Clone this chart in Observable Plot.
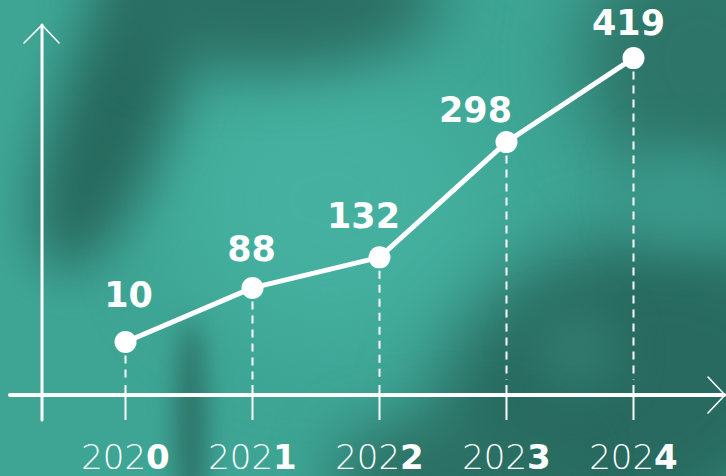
<!DOCTYPE html>
<html><head><meta charset="utf-8">
<script src="https://cdn.jsdelivr.net/npm/d3@7"></script>
<script src="https://cdn.jsdelivr.net/npm/@observablehq/plot@0.6"></script>
<style>
html,body{margin:0;padding:0;background:#3da393;}
#wrap{position:relative;width:726px;height:476px;overflow:hidden;background:#3ea595;}
.blob{position:absolute;border-radius:50%;}
#chart{position:absolute;left:0;top:0;}
</style></head><body>
<div id="wrap">
  <div class="blob" style="left:170px;top:60px;width:320px;height:280px;background:#45b09f;filter:blur(45px)"></div>
  <div class="blob" style="left:60px;top:-60px;width:110px;height:340px;background:#276a5e;transform:rotate(20deg);filter:blur(26px)"></div>
  <div class="blob" style="left:100px;top:-70px;width:340px;height:140px;background:#2b6f63;filter:blur(30px)"></div>
  <div class="blob" style="left:580px;top:-70px;width:240px;height:260px;background:#2d7568;filter:blur(35px)"></div>
  <div class="blob" style="left:430px;top:240px;width:400px;height:300px;background:#286a5f;transform:rotate(-20deg);filter:blur(35px)"></div>
  <div class="blob" style="left:530px;top:305px;width:90px;height:90px;background:#30796c;filter:blur(20px)"></div>
  <div class="blob" style="left:176px;top:320px;width:30px;height:220px;background:#2c7266;filter:blur(12px)"></div>
  <div class="blob" style="left:330px;top:420px;width:240px;height:110px;background:#2b6f63;filter:blur(30px)"></div>
  <div class="blob" style="left:630px;top:150px;width:110px;height:90px;background:#3a988a;filter:blur(25px)"></div>
  <div id="chart"></div>
</div>
<script>
const years = [2020, 2021, 2022, 2023, 2024];
const values = [10, 88, 132, 298, 419];
const data = years.map((year, i) => ({year, value: values[i]}));

// label nudges (pixels) so the value labels sit clear of the line
const labelNudge = [[3, -35], [-1, -27], [-16, -29], [-31, -20], [-5, -23]];

function axesMark(index, scales, vals, dims) {
  const {width, height, marginLeft, marginTop, marginBottom} = dims;
  const g = d3.create("svg:g").attr("stroke", "white").attr("fill", "none").attr("stroke-linecap", "round");
  const x0 = marginLeft, yb = height - marginBottom;
  g.append("line").attr("x1", x0).attr("x2", x0).attr("y1", marginTop).attr("y2", yb + 25).attr("stroke-width", 3);
  g.append("path").attr("d", `M${x0 - 18},${marginTop + 18}L${x0},${marginTop}L${x0 + 17},${marginTop + 18}`).attr("stroke-width", 1.6);
  g.append("line").attr("x1", 10).attr("x2", width - 2).attr("y1", yb).attr("y2", yb).attr("stroke-width", 4);
  g.append("path").attr("d", `M${width - 18},${yb - 18}L${width - 1},${yb}L${width - 18},${yb + 18}`).attr("stroke-width", 1.6);
  return g.node();
}

const labelMarks = data.map((d, i) => Plot.text([d], {
  x: "year", y: "value", text: r => String(r.value),
  dx: labelNudge[i][0], dy: labelNudge[i][1], lineAnchor: "bottom",
  fill: "white", fontSize: 35, fontWeight: "bold", fontFamily: "DejaVu Sans"
}));

const chart = Plot.plot({
  width: 726, height: 476,
  marginLeft: 42, marginTop: 25, marginRight: 0, marginBottom: 81,
  x: {domain: [2020, 2024], range: [125, 633], axis: null},
  y: {domain: [0, 419], range: [348.5, 57.6], axis: null},
  style: {background: "transparent", overflow: "visible"},
  marks: [
    axesMark,
    Plot.ruleX(data, {x: "year", y1: "value", y2: () => 0, insetBottom: -31.5, stroke: "white", strokeWidth: 2, strokeDasharray: "8,6"}),
    Plot.ruleX(data, {x: "year", insetTop: 360, insetBottom: -25, stroke: "white", strokeWidth: 2}),
    Plot.line(data, {x: "year", y: "value", stroke: "white", strokeWidth: 5}),
    Plot.dot(data, {x: "year", y: "value", r: 11, fill: "white"}),
    ...labelMarks,
    Plot.text(data, {x: "year", frameAnchor: "bottom", dy: 73, lineAnchor: "bottom", text: d => String(d.year),
      fill: "white", fontSize: 34, fontFamily: "DejaVu Sans", className: "years"})
  ]
});
document.getElementById("chart").appendChild(chart);

d3.select(chart).selectAll(".years text").each(function() {
  const t = this.textContent;
  const sel = d3.select(this);
  sel.text("");
  sel.append("tspan").attr("font-weight", 200).text(t.slice(0, -1));
  sel.append("tspan").attr("font-weight", 700).text(t.slice(-1));
});
</script>
</body></html>
